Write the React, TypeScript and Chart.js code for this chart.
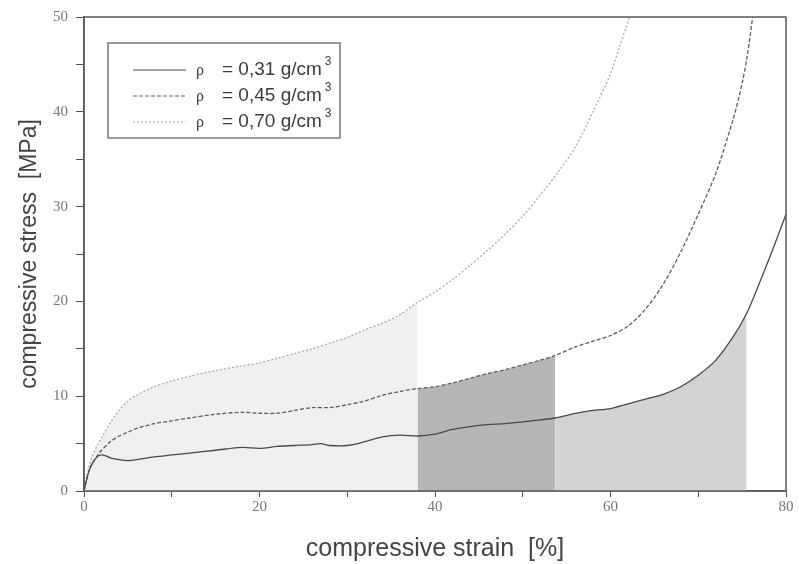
import React, { useEffect, useRef } from "react";
import { Chart, registerables } from "chart.js";

Chart.register(...registerables);

// ---- data ----
const strain31 = [0, 0.3, 0.6, 1, 1.5, 2, 2.5, 3, 4, 5, 6, 8, 10, 12, 15, 18, 20, 22, 24, 26, 27, 28, 30, 32, 34, 36, 38, 40, 42, 44, 46, 48, 50, 52, 53.7, 56, 58, 60, 62, 64, 66, 68, 70, 72, 74, 75.5, 77, 78.5, 80];
const stress31 = [0, 1.2, 2.2, 3.0, 3.6, 3.8, 3.7, 3.5, 3.3, 3.2, 3.3, 3.6, 3.8, 4.0, 4.3, 4.6, 4.5, 4.7, 4.8, 4.9, 5.0, 4.8, 4.8, 5.2, 5.7, 5.9, 5.8, 6.0, 6.5, 6.8, 7.0, 7.1, 7.3, 7.5, 7.7, 8.2, 8.5, 8.7, 9.2, 9.7, 10.2, 11.0, 12.2, 13.8, 16.3, 18.7, 22.0, 25.5, 29.2];

const strain45 = [0, 0.3, 0.6, 1, 1.5, 2, 3, 4, 5, 6, 8, 10, 12, 15, 18, 20, 22, 24, 26, 28, 30, 32, 34, 36, 38, 40, 42, 44, 46, 48, 50, 52, 53.7, 56, 58, 60, 62, 64, 66, 68, 70, 72, 74, 75, 75.6, 76.2];
const stress45 = [0, 1.2, 2.2, 3.0, 3.7, 4.3, 5.2, 5.8, 6.2, 6.6, 7.1, 7.4, 7.7, 8.1, 8.3, 8.2, 8.2, 8.5, 8.8, 8.8, 9.1, 9.5, 10.1, 10.5, 10.8, 11.0, 11.4, 11.9, 12.4, 12.8, 13.3, 13.8, 14.3, 15.2, 15.8, 16.4, 17.4, 19.2, 21.8, 25.2, 29.2, 33.5, 39.3, 43.0, 46.0, 50.0];

const strain70 = [0, 0.3, 0.6, 1, 1.5, 2, 3, 4, 5, 6, 8, 10, 12, 15, 18, 20, 22, 24, 26, 28, 30, 32, 34, 36, 38, 40, 42, 44, 46, 48, 50, 52, 54, 56, 58, 60, 61, 62.2];
const stress70 = [0, 1.5, 2.7, 3.8, 4.8, 5.6, 7.2, 8.5, 9.5, 10.1, 11.0, 11.6, 12.1, 12.7, 13.2, 13.5, 14.0, 14.5, 15.0, 15.6, 16.2, 17.0, 17.7, 18.6, 19.9, 21.0, 22.3, 23.8, 25.4, 27.1, 29.0, 31.2, 33.6, 36.3, 40.0, 44.0, 46.8, 50.0];

// shaded strain ranges
const fillRange70 = [0, 38];
const fillRange45 = [38, 53.7];
const fillRange31 = [53.7, 75.5];

const densityLabels = ["0,31", "0,45", "0,70"];
const xTicks = [0, 20, 40, 60, 80];
const yTicks = [0, 10, 20, 30, 40, 50];

const xTitle = "compressive strain  [%]";
const yTitle = "compressive stress  [MPa]";

const toPts = (xs: number[], ys: number[]) => xs.map((x, i) => ({ x, y: ys[i] }));
const sub = (xs: number[], ys: number[], r: number[]) =>
  toPts(xs, ys).filter((p) => p.x >= r[0] && p.x <= r[1]);

const lineStyles = [
  { color: "#4a4a4a", dash: [] as number[] },
  { color: "#5e5e5e", dash: [4, 2] },
  { color: "#ababab", dash: [2, 2] },
];

const frameLegendPlugin = {
  id: "frameLegend",
  afterDraw(chart: any) {
    const { ctx, chartArea } = chart;
    ctx.save();
    // frame
    ctx.strokeStyle = "#5a5a5a";
    ctx.lineWidth = 1.5;
    ctx.strokeRect(chartArea.left, chartArea.top, chartArea.right - chartArea.left, chartArea.bottom - chartArea.top);
    // legend box
    ctx.strokeStyle = "#7a7a7a";
    ctx.lineWidth = 1.5;
    ctx.fillStyle = "#ffffff";
    ctx.fillRect(108, 43, 232, 95);
    ctx.strokeRect(108, 43, 232, 95);
    const rows = [70, 96, 122];
    densityLabels.forEach((lab, i) => {
      const y = rows[i];
      ctx.strokeStyle = lineStyles[i].color;
      ctx.lineWidth = 1.2;
      ctx.setLineDash(lineStyles[i].dash);
      ctx.beginPath();
      ctx.moveTo(133, y);
      ctx.lineTo(186, y);
      ctx.stroke();
      ctx.setLineDash([]);
      ctx.fillStyle = "#3c3c3c";
      ctx.textBaseline = "middle";
      ctx.textAlign = "left";
      ctx.font = "16px 'Liberation Serif'";
      ctx.fillText("ρ", 196, y + 1);
      ctx.font = "19px 'Liberation Sans'";
      const t = "= " + lab + " g/cm";
      ctx.fillText(t, 222, y);
      const w = ctx.measureText(t).width;
      ctx.font = "12px 'Liberation Sans'";
      ctx.fillText("3", 222 + w + 3, y - 8);
    });
    ctx.restore();
  },
};

export default function App() {
  const ref = useRef<HTMLCanvasElement | null>(null);
  useEffect(() => {
    document.body.style.margin = "0";
    if (!ref.current) return;
    const lines = [
      toPts(strain31, stress31),
      toPts(strain45, stress45),
      toPts(strain70, stress70),
    ];
    const chart = new Chart(ref.current, {
      type: "line",
      data: {
        datasets: [
          ...lines.map((d, i) => ({
            label: densityLabels[i],
            data: d,
            borderColor: lineStyles[i].color,
            borderDash: lineStyles[i].dash,
            borderWidth: 1.3,
            pointRadius: 0,
            fill: false,
            tension: 0.3,
            order: 0,
          })),
          {
            label: "f70",
            data: sub(strain70, stress70, fillRange70),
            borderWidth: 0,
            pointRadius: 0,
            backgroundColor: "#f0f0f0",
            fill: "origin",
            tension: 0.3,
            order: 1,
          },
          {
            label: "f45",
            data: sub(strain45, stress45, fillRange45),
            borderWidth: 0,
            pointRadius: 0,
            backgroundColor: "#b6b6b6",
            fill: "origin",
            tension: 0.3,
            order: 1,
          },
          {
            label: "f31",
            data: sub(strain31, stress31, fillRange31),
            borderWidth: 0,
            pointRadius: 0,
            backgroundColor: "#d3d3d3",
            fill: "origin",
            tension: 0.3,
            order: 1,
          },
        ] as any,
      },
      options: {
        animation: false,
        responsive: false,
        layout: { padding: { left: 0, right: 13, top: 15, bottom: 0 } },
        plugins: { legend: { display: false }, tooltip: { enabled: false } },
        scales: {
          x: {
            type: "linear",
            min: 0,
            max: 80,
            afterFit: (s: any) => { s.height = 73; },
            ticks: {
              stepSize: 10,
              autoSkip: false,
              maxRotation: 0,
              padding: 1,
              color: "#777",
              font: { family: "'Liberation Serif'", size: 15 },
              callback: (v: any) => (xTicks.includes(Number(v)) ? String(v) : ""),
            },
            grid: { drawOnChartArea: false, drawTicks: true, tickLength: 6, color: "#555", lineWidth: 1 },
            border: { display: true, color: "#555", width: 1.5 },
            title: {
              display: true,
              text: xTitle,
              color: "#444",
              font: { family: "'Liberation Sans'", size: 25 },
              padding: { top: 0, bottom: 0 },
            },
          },
          y: {
            type: "linear",
            min: 0,
            max: 50,
            afterFit: (s: any) => { s.width = 84; },
            ticks: {
              stepSize: 5,
              autoSkip: false,
              padding: 8,
              color: "#777",
              font: { family: "'Liberation Serif'", size: 15 },
              callback: (v: any) => (yTicks.includes(Number(v)) ? String(v) : ""),
            },
            grid: { drawOnChartArea: false, drawTicks: true, tickLength: 8, color: "#555", lineWidth: 1 },
            border: { display: true, color: "#555", width: 1.5 },
            title: {
              display: true,
              text: yTitle,
              color: "#444",
              font: { family: "'Liberation Sans'", size: 23 },
              padding: { top: 16, bottom: 0 },
            },
          },
        },
      } as any,
      plugins: [frameLegendPlugin],
    });
    return () => chart.destroy();
  }, []);
  return (
    <div style={{ position: "fixed", left: 0, top: 0, width: 799, height: 564, background: "#fff" }}>
      <canvas ref={ref} width={799} height={564} />
    </div>
  );
}
